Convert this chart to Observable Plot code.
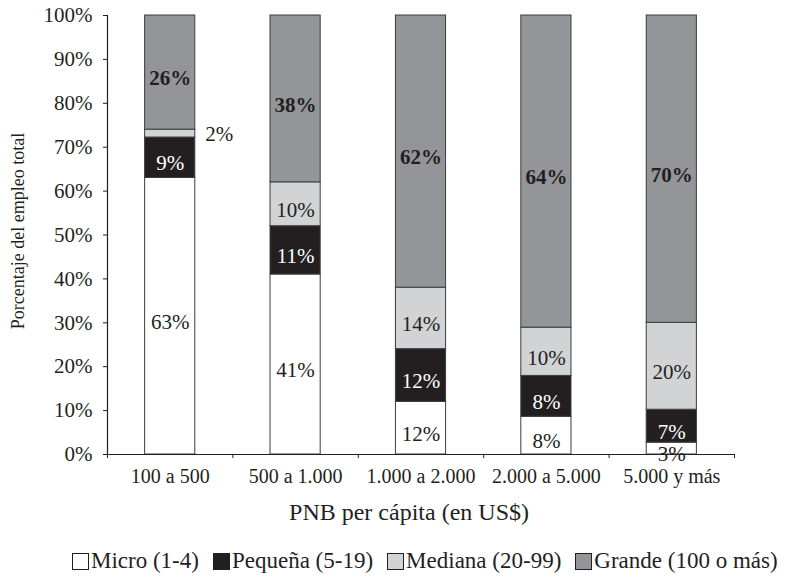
<!DOCTYPE html>
<html>
<head>
<meta charset="utf-8">
<script src="https://cdn.jsdelivr.net/npm/d3@7"></script>
<script src="https://cdn.jsdelivr.net/npm/@observablehq/plot@0.6"></script>
<style>
  body { margin: 0; background: #fff; font-family: "Liberation Serif", "Times New Roman", serif; }
  #legend { display: flex; align-items: center; margin-left: 72px; height: 42px; font-size: 23px; color: #231f20; white-space: nowrap; }
  #legend .item { display: flex; align-items: center; margin-right: 14px; }
  #legend .sw { width: 17px; height: 17px; box-sizing: border-box; border: 1px solid #231f20; margin-right: 2px; }
</style>
</head>
<body>
<div id="chart"></div>
<div id="legend"></div>
<script>
const categories = ["100 a 500", "500 a 1.000", "1.000 a 2.000", "2.000 a 5.000", "5.000 y más"];
const sizes = ["Micro (1-4)", "Pequeña (5-19)", "Mediana (20-99)", "Grande (100 o más)"];
const colors = ["#ffffff", "#231f20", "#d1d3d4", "#939598"];

// segment heights (% of total employment) as drawn
const micro   = [63,  41, 12, 8.6, 2.7];
const pequena = [9.2, 11, 12, 9.3, 7.5];
const mediana = [1.8, 10, 14, 11,  19.8];
const grande  = [26,  38, 62, 71.1, 70];

// printed labels
const microLabels   = ["63%", "41%", "12%", "8%", "3%"];
const pequenaLabels = ["9%", "11%", "12%", "8%", "7%"];
const medianaLabels = ["2%", "10%", "14%", "10%", "20%"];
const grandeLabels  = ["26%", "38%", "62%", "64%", "70%"];

const yTicks = d3.range(0, 101, 10);

const series = [micro, pequena, mediana, grande];
const labels = [microLabels, pequenaLabels, medianaLabels, grandeLabels];

const rows = [];
categories.forEach((cat, i) => {
  let acc = 0;
  sizes.forEach((size, k) => {
    const v = series[k][i];
    rows.push({i, cat, size, k, value: v, label: labels[k][i], y1: acc, y2: acc + v});
    acc += v;
  });
});

const n = categories.length;
const barLeft = 0.3, barRight = 0.7;
const font = "Liberation Serif, Times New Roman, serif";
const ink = "#231f20";

const inside = rows.filter(d => d.value >= 2.5);
const outside = rows.filter(d => d.value < 2.5);

const plot = Plot.plot({
  width: 789,
  height: 540,
  marginTop: 15,
  marginLeft: 107,
  marginRight: 55,
  marginBottom: 86,
  style: {fontFamily: font, fontSize: "20px", color: ink, background: "#fff"},
  x: {type: "linear", domain: [0, n]},
  y: {domain: [0, 100]},
  color: {domain: sizes, range: colors},
  marks: [
    Plot.rectY(rows, {
      x1: d => d.i + barLeft, x2: d => d.i + barRight,
      y1: "y1", y2: "y2", fill: "size",
      stroke: "#3c3c3c", strokeWidth: 1
    }),
    Plot.text(inside.filter(d => d.k !== 3), {
      x: d => d.i + 0.5, y: d => (d.y1 + d.y2) / 2, text: "label",
      dy: 6, fontSize: 21, fill: d => d.k === 1 ? "#ffffff" : ink
    }),
    Plot.text(inside.filter(d => d.k === 3), {
      x: d => d.i + 0.5, y: d => (d.y1 + d.y2) / 2, text: "label",
      dy: 6, fontSize: 21, fontWeight: "bold", fill: ink
    }),
    Plot.text(outside, {
      x: d => d.i + barRight, y: d => (d.y1 + d.y2) / 2, text: "label",
      textAnchor: "start", dx: 10, dy: 1, fontSize: 21, fill: ink
    }),
    Plot.ruleX([0], {stroke: ink, strokeWidth: 1.2}),
    Plot.ruleY([0], {stroke: ink, strokeWidth: 1.2}),
    Plot.axisY({
      ticks: yTicks, tickFormat: d => d + "%", tickSize: 4, tickPadding: 11,
      fontSize: 21, stroke: ink, fill: ink, label: null
    }),
    Plot.text(["Porcentaje del empleo total"], {
      frameAnchor: "left", textAnchor: "middle", lineAnchor: "middle",
      rotate: -90, dx: -89, dy: -4, fontSize: 18, fill: ink
    }),
    Plot.axisX({
      ticks: d3.range(0, n + 1), tickSize: 4, tickFormat: () => "", stroke: ink, label: null
    }),
    Plot.axisX({
      ticks: d3.range(0, n).map(i => i + 0.5), tickFormat: v => categories[Math.floor(v)],
      tickSize: 0, tickPadding: 14, fontSize: 20, fill: ink, label: null
    }),
    Plot.text(["PNB per cápita (en US$)"], {
      frameAnchor: "bottom", lineAnchor: "middle", dy: 58, dx: -12, fontSize: 24, fill: ink
    })
  ]
});
document.getElementById("chart").appendChild(plot);

const legend = document.getElementById("legend");
sizes.forEach((s, k) => {
  const item = document.createElement("div");
  item.className = "item";
  const sw = document.createElement("span");
  sw.className = "sw";
  sw.style.background = colors[k];
  const t = document.createElement("span");
  t.textContent = s;
  item.appendChild(sw);
  item.appendChild(t);
  legend.appendChild(item);
});
</script>
</body>
</html>
